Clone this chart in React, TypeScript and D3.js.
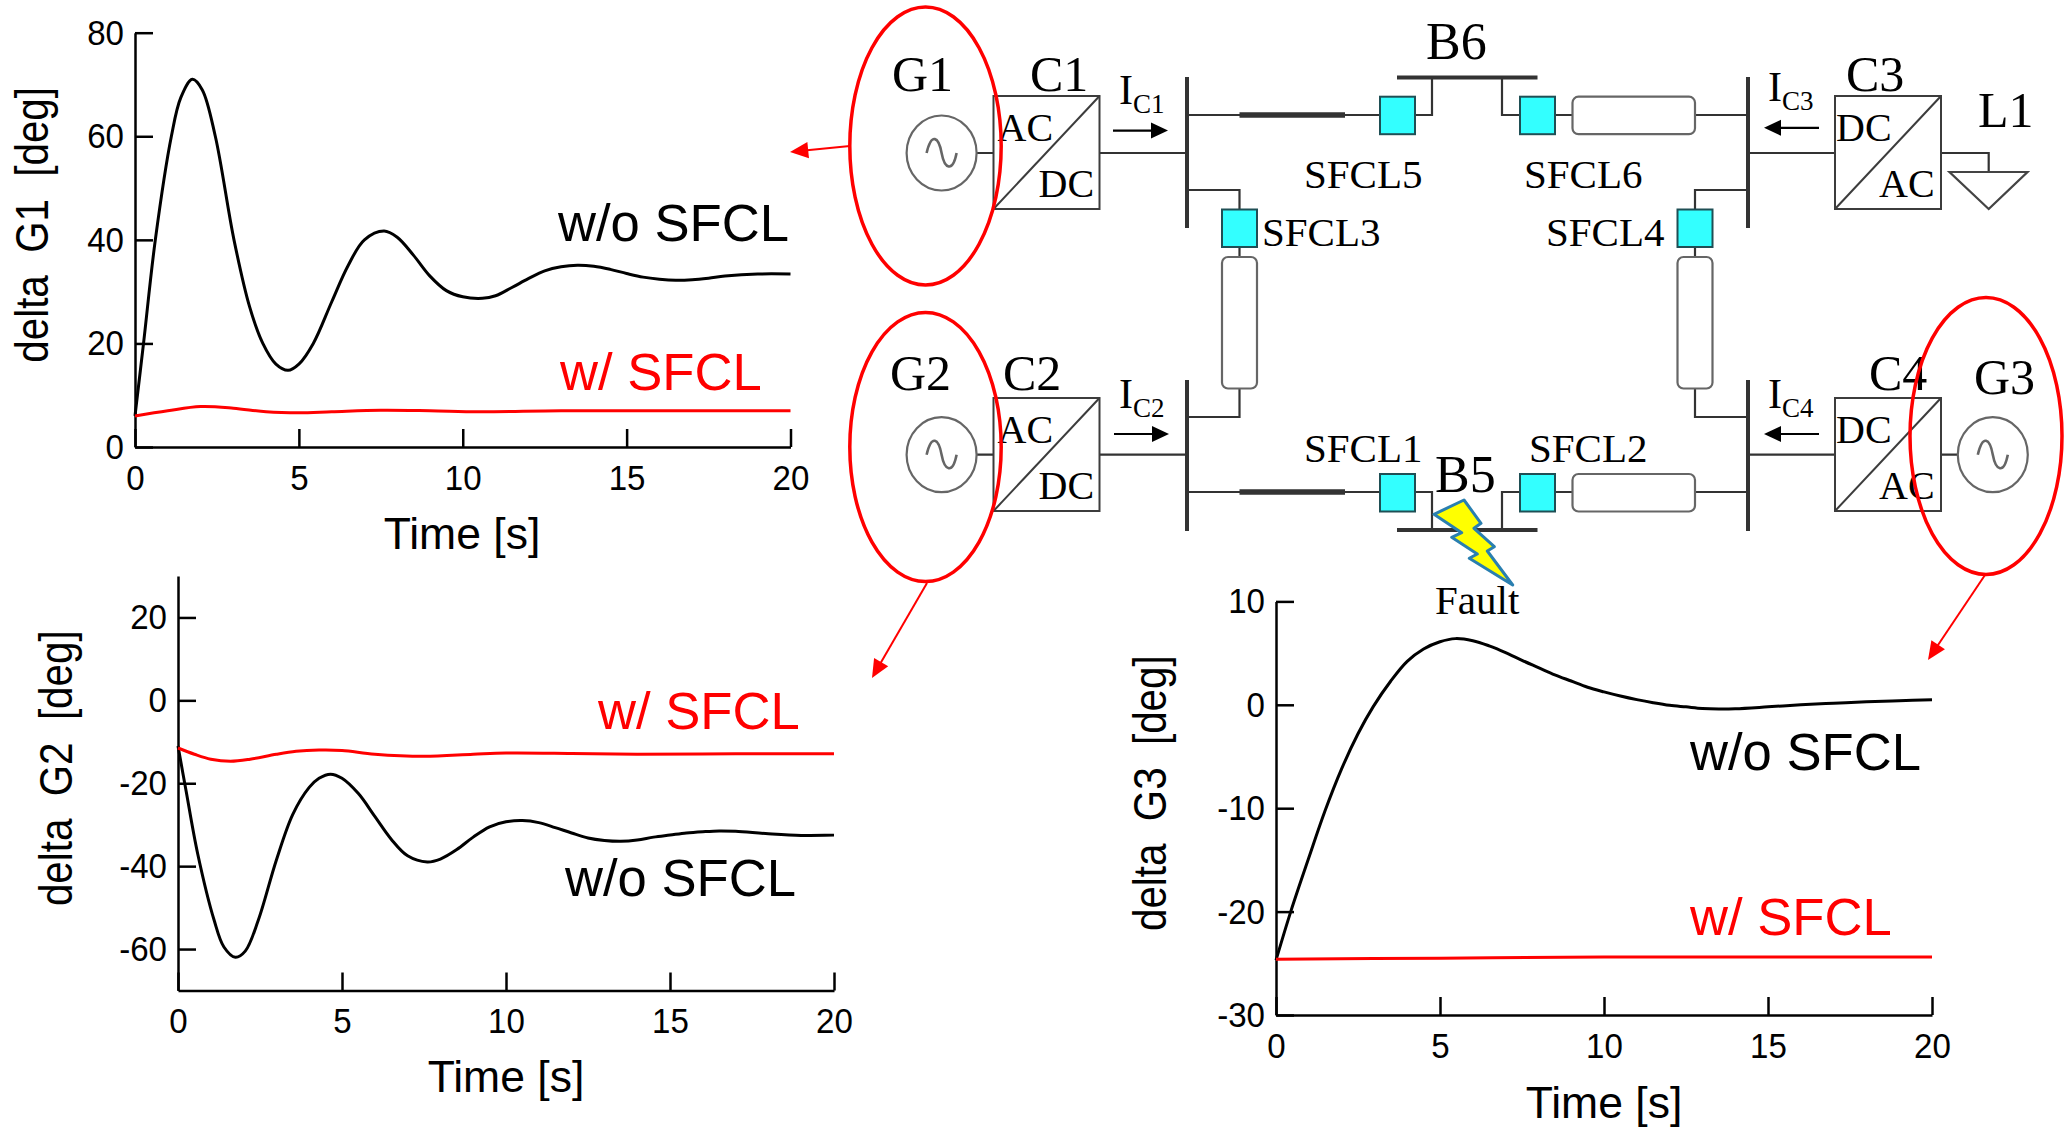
import React, { useEffect, useRef } from 'react';
import * as d3 from 'd3';

// time / value pairs
const g1Time = [0, 0.26, 0.62, 1.11, 1.4, 1.75, 2.05, 2.45, 3.02, 3.5, 3.9, 4.3, 4.67, 5, 5.44, 6, 6.5, 7, 7.6, 8, 8.5, 9, 9.5, 10, 10.6, 11, 11.5, 12, 12.5, 13, 13.5, 14, 14.5, 15, 15.5, 16, 16.5, 17, 17.5, 18, 19, 20];
const g1Without = [6, 20, 40, 60, 67.5, 71, 69, 60, 40, 27, 20, 16, 14.8, 16, 20, 28, 35, 40, 41.7, 40.5, 37, 33, 30.2, 29, 28.7, 29.2, 30.8, 32.5, 34, 34.8, 35.1, 34.9, 34.3, 33.5, 32.8, 32.4, 32.2, 32.3, 32.6, 33, 33.4, 33.4];
const g1WithTime = [0, 1, 2, 3, 4, 5, 6, 7.5, 9, 10.5, 13, 16, 20];
const g1With = [6, 7, 7.8, 7.5, 6.8, 6.6, 6.8, 7.1, 7, 6.8, 7, 7, 7];

const g2Time = [0, 0.25, 0.6, 1.1, 1.4, 1.75, 2.05, 2.45, 3, 3.5, 4, 4.3, 4.65, 5, 5.5, 6, 6.5, 7, 7.6, 8, 8.5, 9, 9.5, 10, 10.5, 11, 11.5, 12, 12.5, 13, 13.5, 14, 14.5, 15, 15.5, 16, 16.5, 17, 18, 19, 20];
const g2Without = [-11, -22, -37, -53, -59.5, -62, -60.5, -53, -38.5, -27.5, -21, -18.8, -17.8, -18.8, -22.5, -28, -33.5, -37.5, -39, -38.3, -36, -33, -30.5, -29.3, -29, -29.5, -30.7, -32, -33.2, -33.8, -34, -33.7, -33, -32.5, -32, -31.7, -31.5, -31.6, -32.2, -32.6, -32.5];
const g2WithTime = [0, 0.5, 1, 1.6, 2.2, 3, 3.6, 4.3, 5, 6, 7.5, 9, 10, 12, 14, 17, 20];
const g2With = [-11.5, -13, -14.2, -14.7, -14.2, -13, -12.3, -12, -12.1, -13, -13.5, -13, -12.7, -12.8, -13, -12.9, -12.9];

const g3Time = [0, 0.45, 1, 1.49, 2, 2.5, 2.96, 3.5, 4, 4.5, 5, 5.47, 6, 6.5, 7, 7.5, 8, 8.5, 9, 9.5, 10, 10.5, 11, 11.5, 12, 12.5, 13, 13.5, 14, 15, 16, 17, 18, 19, 20];
const g3Without = [-24.7, -20, -14.8, -10.3, -6.2, -2.8, -0.2, 2.3, 4.2, 5.4, 6.1, 6.4, 6.2, 5.7, 5.05, 4.3, 3.6, 2.9, 2.3, 1.7, 1.25, 0.85, 0.5, 0.2, -0.05, -0.2, -0.35, -0.4, -0.38, -0.2, 0, 0.15, 0.3, 0.4, 0.5];
const g3WithTime = [0, 5, 10, 20];
const g3With = [-24.6, -24.5, -24.4, -24.4];

const xTicks = [0, 5, 10, 15, 20];
const g1Ticks = [0, 20, 40, 60, 80];
const g2Ticks = [-60, -40, -20, 0, 20];
const g3Ticks = [-30, -20, -10, 0, 10];

const SANS = '"Liberation Sans", Arial, sans-serif';
const SERIF = '"Liberation Serif", "Times New Roman", serif';
const RED = '#ff0000';

const panels = [
  {
    left: 135, right: 790.5, top: 32.7, bottom: 447, domain: [0, 80], ticks: g1Ticks,
    black: [g1Time, g1Without], red: [g1WithTime, g1With],
    yLabel: 'delta  G1  [deg]', yLabelX: 48, timeX: 462, timeY: 549,
    blackText: [558, 241], redText: [560, 390],
  },
  {
    left: 178, right: 834, top: 576, bottom: 990.5, domain: [-70, 30], ticks: g2Ticks,
    black: [g2Time, g2Without], red: [g2WithTime, g2With],
    yLabel: 'delta  G2  [deg]', yLabelX: 72, timeX: 506, timeY: 1092,
    blackText: [565, 896], redText: [598, 729],
  },
  {
    left: 1276, right: 1932, top: 601.4, bottom: 1015, domain: [-30, 10], ticks: g3Ticks,
    black: [g3Time, g3Without], red: [g3WithTime, g3With],
    yLabel: 'delta  G3  [deg]', yLabelX: 1166, timeX: 1604, timeY: 1118,
    blackText: [1690, 770], redText: [1690, 935],
  },
];

const drawPanel = (svg: any, p: any) => {
  const x = d3.scaleLinear().domain([0, 20]).range([p.left, p.right]);
  const y = d3.scaleLinear().domain(p.domain).range([p.bottom, p.top]);
  const g = svg.append('g');

  const xAxis = d3.axisBottom(x).tickValues(xTicks).tickFormat((d: any) => String(d))
    .tickSizeInner(-18).tickSizeOuter(0).tickPadding(17);
  const yAxis = d3.axisLeft(y).tickValues(p.ticks).tickFormat((d: any) => String(d))
    .tickSizeInner(-18).tickSizeOuter(0).tickPadding(11);

  const styleAxis = (a: any) => {
    a.attr('font-family', SANS).attr('font-size', 36);
    a.selectAll('line').attr('stroke', '#000').attr('stroke-width', 2.5);
    a.selectAll('path').attr('stroke', '#000').attr('stroke-width', 2.5);
    // the labels in the picture are a little narrow for their height
    a.selectAll('text').attr('fill', '#000').attr('transform', function (this: any) {
      const tx = +(this.getAttribute('x') || 0);
      return `translate(${tx},0) scale(0.92,1) translate(${-tx},0)`;
    });
  };
  g.append('g').attr('transform', `translate(0,${p.bottom})`).call(xAxis).call(styleAxis);
  g.append('g').attr('transform', `translate(${p.left},0)`).call(yAxis).call(styleAxis);

  const line = d3.line().x((d: any) => x(d[0])).y((d: any) => y(d[1])).curve(d3.curveCatmullRom.alpha(0.5));
  const drawCurve = ([ts, vs]: number[][], colour: string, w: number) => {
    g.append('path').attr('d', line(d3.zip(ts, vs) as any)).attr('fill', 'none').attr('stroke', colour).attr('stroke-width', w);
  };
  drawCurve(p.black, '#000', 3);
  drawCurve(p.red, RED, 3);

  const label = (text: string, tx: number, ty: number, size: number, fill = '#000') =>
    g.append('text').attr('x', tx).attr('y', ty).attr('font-family', SANS).attr('font-size', size).attr('fill', fill).text(text);
  label('w/o SFCL', p.blackText[0], p.blackText[1], 52.6);
  label('w/ SFCL', p.redText[0], p.redText[1], 52.6, RED);
  label('Time [s]', p.timeX, p.timeY, 44.5).attr('text-anchor', 'middle');

  g.append('text').attr('transform', `translate(${p.yLabelX},${(p.top + p.bottom) / 2 - 15}) rotate(-90) scale(0.96,1.08)`)
    .attr('font-family', SANS).attr('font-size', 42).attr('text-anchor', 'middle')
    .style('white-space', 'pre').text(p.yLabel);
};

const GREY = '#3c3c3c';

const Converter = ({ x, y, top, bottom }: { x: number; y: number; top: string; bottom: string }) => (
  <g>
    <rect x={x} y={y} width={106} height={113} fill="#fff" stroke={GREY} strokeWidth={2} />
    <line x1={x} y1={y + 113} x2={x + 106} y2={y} stroke={GREY} strokeWidth={2} />
    <text x={top === 'AC' ? x + 4 : x + 1} y={y + 45} fontFamily={SERIF} fontSize={40}>{top}</text>
    <text x={top === 'AC' ? x + 45 : x + 44} y={y + 101} fontFamily={SERIF} fontSize={40}>{bottom}</text>
  </g>
);

const Source = ({ cx, cy }: { cx: number; cy: number }) => (
  <g fill="none" stroke="#666" strokeWidth={2.2}>
    <ellipse cx={cx} cy={cy} rx={35} ry={37.5} />
    <path d={`M${cx - 15},${cy} C${cx - 10},${cy - 21} ${cx - 3},${cy - 16} ${cx},${cy} S${cx + 11},${cy + 20} ${cx + 15},${cy}`} strokeWidth={2.6} />
  </g>
);

const Sfcl = ({ x, y }: { x: number; y: number }) => (
  <rect x={x} y={y} width={35} height={37.5} fill="#33ffff" stroke="#1f4f55" strokeWidth={2} />
);

const Cable = ({ x, y, w, h }: { x: number; y: number; w: number; h: number }) => (
  <rect x={x} y={y} width={w} height={h} rx={6} fill="#fff" stroke="#666" strokeWidth={2.2} />
);

const Current = ({ x, y, sub, subDy = 9 }: { x: number; y: number; sub: string; subDy?: number }) => (
  <text x={x} y={y} fontFamily={SERIF} fontSize={42}>I<tspan fontSize={27} dy={subDy}>{sub}</tspan></text>
);

const Arrow = ({ x1, x2, y }: { x1: number; x2: number; y: number }) => {
  const d = x2 > x1 ? 1 : -1;
  return (
    <g>
      <line x1={x1} y1={y} x2={x2 - d * 16} y2={y} stroke="#000" strokeWidth={2.2} />
      <path d={`M${x2},${y} L${x2 - d * 17},${y - 8} L${x2 - d * 17},${y + 8} Z`} fill="#000" />
    </g>
  );
};

const Wire = ({ d, w = 2.2 }: { d: string; w?: number }) => <path d={d} fill="none" stroke="#333" strokeWidth={w} />;

const Label = ({ x, y, size = 41, children }: { x: number; y: number; size?: number; children: string }) => (
  <text x={x} y={y} fontFamily={SERIF} fontSize={size} fill="#000">{children}</text>
);

const RedArrow = ({ x1, y1, x2, y2 }: { x1: number; y1: number; x2: number; y2: number }) => {
  const a = Math.atan2(y2 - y1, x2 - x1);
  const len = 20;
  const spread = 0.42;
  const p1 = [x2 - len * Math.cos(a - spread), y2 - len * Math.sin(a - spread)];
  const p2 = [x2 - len * Math.cos(a + spread), y2 - len * Math.sin(a + spread)];
  return (
    <g>
      <line x1={x1} y1={y1} x2={x2 - 12 * Math.cos(a)} y2={y2 - 12 * Math.sin(a)} stroke={RED} strokeWidth={2} />
      <path d={`M${x2},${y2} L${p1[0]},${p1[1]} L${p2[0]},${p2[1]} Z`} fill={RED} />
    </g>
  );
};

const Diagram = () => (
  <g>
    {/* wiring */}
    <Wire d="M976,153 H994 M976,454.7 H994 M1100,153 H1187 M1100,454.7 H1187" />
    <Wire d="M1187,115 H1380 M1187,492 H1380" />
    <Wire d="M1414,115 H1432 V77.5 M1414,492 H1432 V530" />
    <Wire d="M1502,77.5 V115 H1520 M1502,530 V492 H1520" />
    <Wire d="M1555,115 H1748 M1555,492 H1748" />
    <Wire d="M1187,190 H1239.5 V258 M1239.5,388 V417 H1187" />
    <Wire d="M1748,190 H1695 V258 M1695,388 V417 H1748" />
    <Wire d="M1748,153 H1835 M1748,454.7 H1835" />
    <Wire d="M1941,153 H1988.7 V172 M1941,454.7 H1958" />
    <Wire d="M1239.5,115 H1345 M1239.5,492 H1345" w={5.5} />
    {/* buses */}
    <Wire d="M1187,77 V228 M1187,380 V531 M1748,77 V228 M1748,380 V531" w={4} />
    <Wire d="M1397,77.5 H1537.5 M1397,530 H1537.5" w={4} />

    <path d="M1949.5,172 H2027.5 L1988.7,209 Z" fill="#fff" stroke="#444" strokeWidth={2.2} />

    <Source cx={941.6} cy={153} />
    <Source cx={941.6} cy={454.7} />
    <Source cx={1992.8} cy={454.7} />

    <Converter x={993.5} y={96} top="AC" bottom="DC" />
    <Converter x={993.5} y={398} top="AC" bottom="DC" />
    <Converter x={1835} y={96} top="DC" bottom="AC" />
    <Converter x={1835} y={398} top="DC" bottom="AC" />

    <Sfcl x={1380} y={96.7} />
    <Sfcl x={1520} y={96.7} />
    <Sfcl x={1222} y={209.5} />
    <Sfcl x={1677.5} y={209.5} />
    <Sfcl x={1380} y={474} />
    <Sfcl x={1520} y={474} />

    <Cable x={1572.5} y={96.7} w={122.5} h={37.5} />
    <Cable x={1572.5} y={474} w={122.5} h={37.5} />
    <Cable x={1222} y={257} w={35} h={131.5} />
    <Cable x={1677.5} y={257} w={35} h={131.5} />

    <Arrow x1={1113} x2={1168} y={130.6} />
    <Arrow x1={1114} x2={1169} y={434} />
    <Arrow x1={1819} x2={1764} y={127.8} />
    <Arrow x1={1819} x2={1764} y={434} />
    <Current x={1119} y={104} sub="C1" />
    <Current x={1119} y={408} sub="C2" />
    <Current x={1768} y={101} sub="C3" />
    <Current x={1768} y={408} sub="C4" />

    <Label x={892} y={90.6} size={50}>G1</Label>
    <Label x={890} y={390} size={50}>G2</Label>
    <Label x={1974} y={394} size={50}>G3</Label>
    <Label x={1030} y={90.6} size={50}>C1</Label>
    <Label x={1003} y={390} size={50}>C2</Label>
    <Label x={1846} y={90.6} size={50}>C3</Label>
    <Label x={1869} y={390} size={50}>C4</Label>
    <Label x={1978} y={126.5} size={50}>L1</Label>
    <Label x={1426} y={59} size={52}>B6</Label>
    <Label x={1435} y={492} size={52}>B5</Label>

    <Label x={1304} y={188}>SFCL5</Label>
    <Label x={1524} y={188}>SFCL6</Label>
    <Label x={1262} y={246}>SFCL3</Label>
    <Label x={1546} y={246}>SFCL4</Label>
    <Label x={1304} y={462}>SFCL1</Label>
    <Label x={1529} y={462}>SFCL2</Label>
    <Label x={1435} y={614}>Fault</Label>

    <path d="M1464,500 L1481,523.3 L1474,528.3 L1494.3,546.7 L1487.3,551 L1512.7,585 L1469.3,558.3 L1477.3,554 L1451.7,537.3 L1461.7,532.7 L1434,514.3 Z"
      fill="#ffff00" stroke="#2a7fb0" strokeWidth={3} strokeLinejoin="round" />

    {/* red circles round the generators */}
    <g fill="none" stroke={RED} strokeWidth={3.5}>
      <ellipse cx={925.5} cy={146} rx={75.7} ry={139} />
      <ellipse cx={925.5} cy={447} rx={75.7} ry={134.5} />
      <ellipse cx={1986} cy={436} rx={76} ry={138.5} />
    </g>
    <RedArrow x1={850} y1={146} x2={790} y2={152} />
    <RedArrow x1={927} y1={583} x2={872} y2={678} />
    <RedArrow x1={1985} y1={575} x2={1928} y2={660} />
  </g>
);

const App = () => {
  const chartRef = useRef<SVGGElement>(null);

  useEffect(() => {
    const svg = d3.select(chartRef.current);
    svg.selectAll('*').remove();
    panels.forEach((p) => drawPanel(svg, p));
  }, []);

  return (
    <svg width={2069} height={1129} style={{ position: 'absolute', left: 0, top: 0, background: '#fff' }}>
      <Diagram />
      <g ref={chartRef} />
    </svg>
  );
};

export default App;
